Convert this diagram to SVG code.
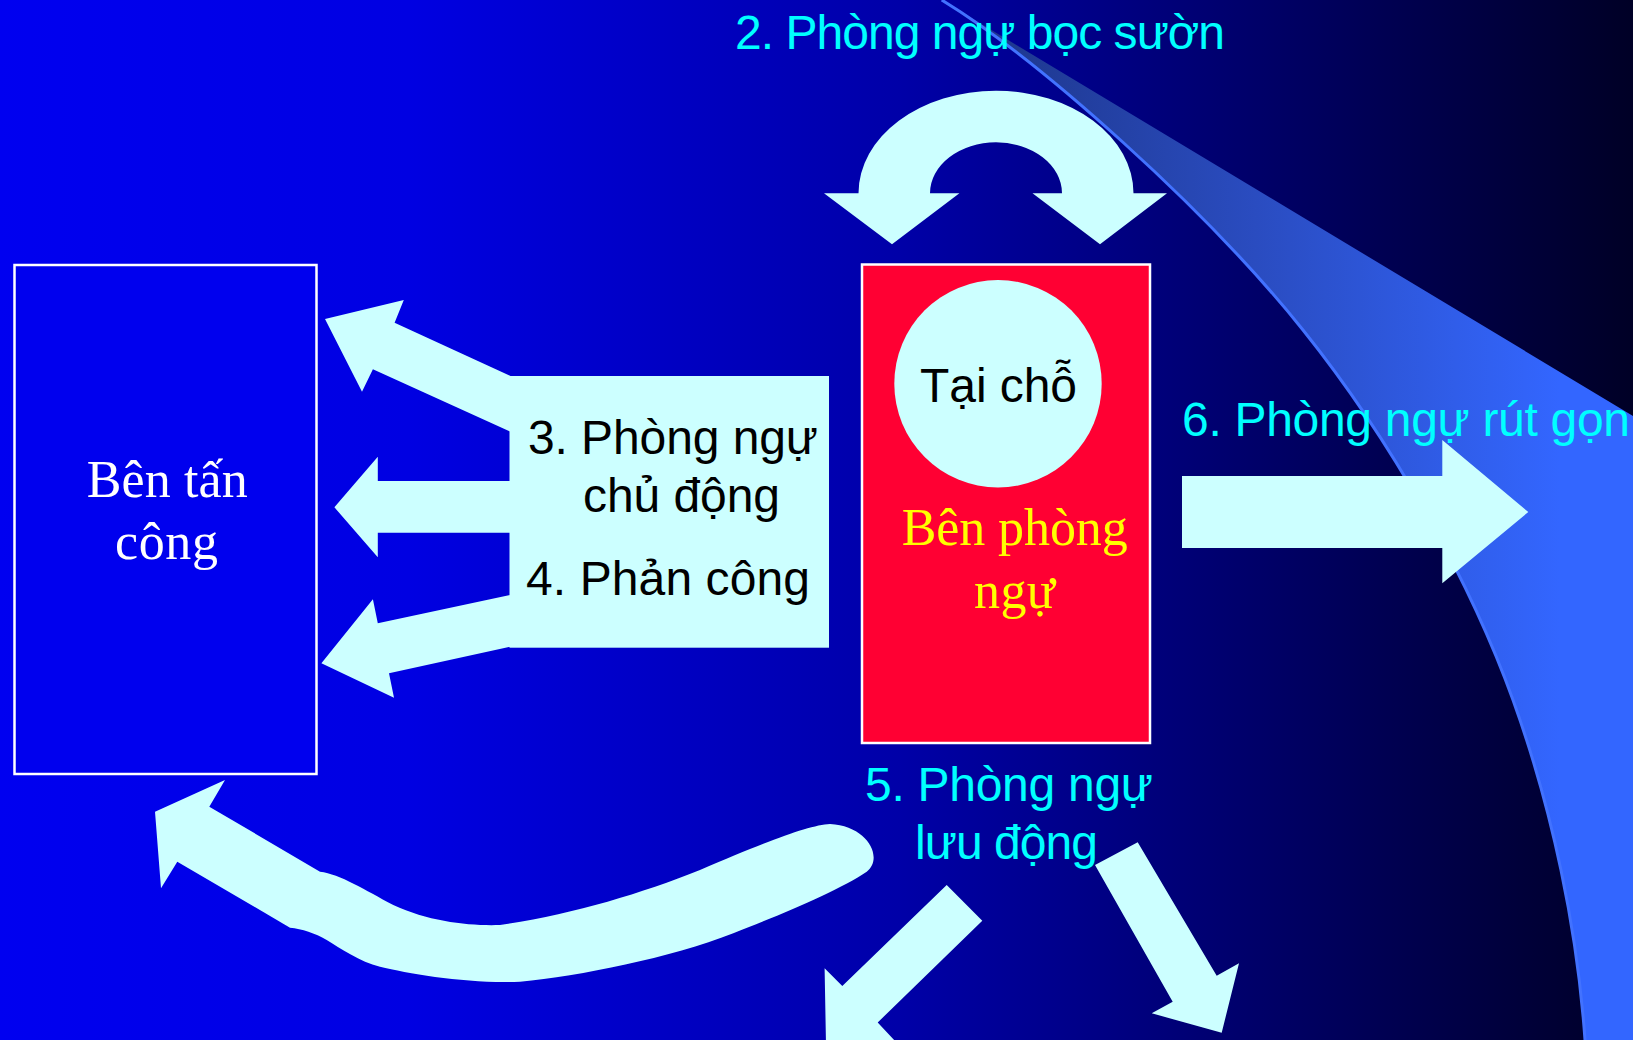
<svg xmlns="http://www.w3.org/2000/svg" width="1633" height="1040" viewBox="0 0 1633 1040">
<defs>
<linearGradient id="bg" x1="0" y1="0" x2="1633" y2="0" gradientUnits="userSpaceOnUse">
<stop offset="0" stop-color="#0000F0"/>
<stop offset="0.25" stop-color="#0000E2"/>
<stop offset="0.55" stop-color="#0000A8"/>
<stop offset="0.8" stop-color="#000060"/>
<stop offset="1" stop-color="#000026"/>
</linearGradient>
<linearGradient id="wedge" x1="950" y1="0" x2="1560" y2="0" gradientUnits="userSpaceOnUse">
<stop offset="0" stop-color="#1c3485"/>
<stop offset="0.5" stop-color="#2a4cc0"/>
<stop offset="1" stop-color="#3366ff"/>
</linearGradient>
</defs>
<style>
.shape{fill:#CCFFFF;stroke:none}
.sans{font-family:"Liberation Sans",Arial,"Noto Sans",sans-serif;font-size:48px}
.serif{font-family:"Liberation Serif","Times New Roman",serif;font-size:52px}
.cyan{fill:#00FFFF}
.dark{fill:#000000}
.box{stroke:#FFFFFF;stroke-width:2.5}
</style>

<g id="background">
<rect x="0" y="0" width="1633" height="1040" fill="url(#bg)"/>
<path d="M941.7,0 L1633,416 L1633,1040 L1585,1040 C1577.3,930 1552.6,810 1513,700 C1473.4,590 1399,450 1303,330 C1207,210 1040,60 941.7,0 Z" fill="url(#wedge)"/>
<path d="M1585,1040 C1577.3,930 1552.6,810 1513,700 C1473.4,590 1399,450 1303,330 C1207,210 1040,60 941.7,0" fill="none" stroke="#4272ff" stroke-width="3"/>
</g>

<g id="node-attack">
<rect class="box" x="14.5" y="265" width="302" height="509" fill="#0000EE"/>
<text class="serif" fill="#FFFFFF" x="86.7" y="497" textLength="161">Bên tấn</text>
<text class="serif" fill="#FFFFFF" x="115" y="559" textLength="103">công</text>
</g>

<g id="node-defense">
<rect class="box" x="862" y="264.5" width="288" height="478.5" fill="#FF0033"/>
<text class="serif" fill="#FFFF00" x="901.7" y="545" textLength="226">Bên phòng</text>
<text class="serif" fill="#FFFF00" x="974" y="608.3" textLength="81">ngự</text>
</g>

<g id="node-in-place">
<circle class="shape" cx="998" cy="383.7" r="103.7"/>
<text class="sans dark" x="920" y="401.7" textLength="157">Tại chỗ</text>
</g>

<g id="connectors">
<path id="arrow-flank" class="shape" d="M858.5,193.3 A137.5,102.6 0 0 1 1133.5,193.3 L1167,193.3 L1100,244.3 L1032.5,193.3 L1062,193.3 A66,51 0 0 0 930,193.3 L959.4,193.3 L892,244.3 L824,193.3 Z"/>
<g id="arrow-active">
<rect class="shape" x="509.5" y="376" width="319.5" height="271.7"/>
<polygon class="shape" points="510.5,376 394.6,322.7 403.8,300 325,319 362,391.7 372.9,369.3 510.5,431.7"/>
<polygon class="shape" points="510.5,481 377.8,481 377.8,456.7 334.4,507.3 377.8,557.3 377.8,532.7 510.5,532.7"/>
<polygon class="shape" points="510.5,595 377.8,623.3 372.9,599.3 321.4,663.3 394,697.7 389,673.3 510.5,646.7"/>
</g>
<polygon id="arrow-withdraw" class="shape" points="1182,476 1442.3,476 1442.3,440 1528.3,512 1442.3,583.3 1442.3,548 1182,548"/>
<path id="arrow-mobile-back" class="shape" d="M225,780 L155,811.7 L161,888.3 L177.3,861.7 L290,927.7 C302,929 315,933 326.7,940 C340,948 360,962 380,966.7 C410,974 470,984 520,981.7 C580,976 670,958 733.3,933.3 C780,915 840,890 866.7,871.7 C884,858 868,826 830,824 C810,825 770,840 700,870 C640,894 570,915 500,925 C470,926 430,922 393.3,905 C365,890 340,874 320,871.7 L209.3,806.7 Z"/>
<polygon id="arrow-mobile-left" class="shape" points="946.7,885 982.3,920.7 877.7,1022.5 896,1042 826,1045 824.6,968.3 842.3,986.1"/>
<polygon id="arrow-mobile-right" class="shape" points="1095,865 1137.7,842.3 1216.7,975.7 1239,963.3 1221.7,1032.7 1151.7,1013.3 1172.7,1001.7"/>
</g>

<g id="labels">
<text class="sans cyan" x="735" y="49.3" textLength="490">2. Phòng ngự bọc sườn</text>
<text class="sans dark" x="528" y="454" textLength="290">3. Phòng ngự</text>
<text class="sans dark" x="583" y="511.7" textLength="197">chủ động</text>
<text class="sans dark" x="526" y="595" textLength="284">4. Phản công</text>
<text class="sans cyan" x="865" y="800.7" textLength="288">5. Phòng ngự</text>
<text class="sans cyan" x="915" y="859.3" textLength="183">lưu động</text>
<text class="sans cyan" x="1182" y="436" textLength="448">6. Phòng ngự rút gọn</text>
</g>
</svg>
